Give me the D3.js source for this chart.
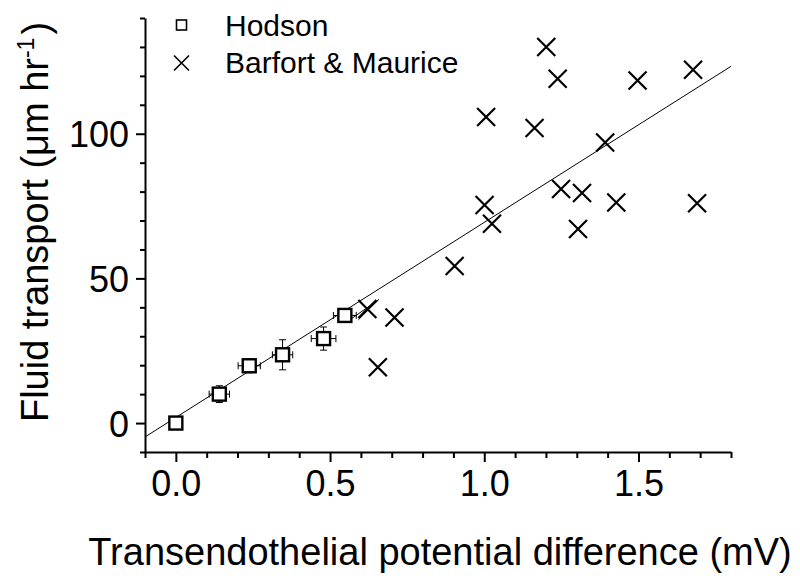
<!DOCTYPE html>
<html>
<head>
<meta charset="utf-8">
<script src="https://cdn.jsdelivr.net/npm/d3@7"></script>
<style>
    body { margin: 0; background: #fff; }
    svg { display: block; font-family: "Liberation Sans", Arial, sans-serif; }
</style>
</head>
<body>
<div id="chart"></div>
<script>
//Hodson (squares with error bars)
const hodsonX = [0, 0.141, 0.238, 0.346, 0.479, 0.548];
const hodsonY = [0, 10.0, 19.8, 23.6, 29.2, 37.2];
const hodsonXErr = [0, 0.033, 0.036, 0.033, 0.040, 0.037];
const hodsonYErr = [0, 2.9, 2.4, 5.2, 4.0, 1.5];

//Barfort & Maurice (crosses)
const barfortX = [1.201, 1.238, 1.497, 1.677, 1.006, 1.163, 1.392, 1.001, 1.025,
                  1.249, 1.317, 1.428, 1.690, 1.304, 0.904, 0.621, 0.709, 0.655];
const barfortY = [130.0, 119.0, 118.4, 122.1, 105.8, 102.0, 97.0, 75.4, 68.9,
                  80.9, 79.5, 76.2, 76.0, 67.1, 54.3, 39.4, 36.5, 19.3];

//fitted line end points
const fitX = [-0.1, 1.8];
const fitY = [-4.8, 123.3];

//small stray arrow near the last Hodson point
const arrowX = [0.571, 0.592, 0.657, 0.609];
const arrowY = [36.2, 35.7, 42.6, 37.7];

//axes
const xDomain = [-0.1, 1.8];
const yDomain = [-10, 140];
const xMajor = [0, 0.5, 1.0, 1.5];
const xMinor = [-0.1, 0.1, 0.2, 0.3, 0.4, 0.6, 0.7, 0.8, 0.9, 1.1, 1.2, 1.3, 1.4, 1.6, 1.7, 1.8];
const yMajor = [0, 50, 100];
const yMinor = [-10, 10, 20, 30, 40, 60, 70, 80, 90, 110, 120, 130, 140];

const legendItems = ["Hodson", "Barfort & Maurice"];
const xTitle = "Transendothelial potential difference (mV)";

const W = 800, H = 583;
const plot = { left: 145, right: 731, top: 18, bottom: 452 };

const svg = d3.select("#chart").append("svg")
    .attr("width", W)
    .attr("height", H);

const x = d3.scaleLinear().domain(xDomain).range([plot.left, plot.right]);
const y = d3.scaleLinear().domain(yDomain).range([plot.bottom, plot.top]);

const hodson = hodsonX.map((d, i) => ({ x: d, y: hodsonY[i], ex: hodsonXErr[i], ey: hodsonYErr[i] }));
const barfort = barfortX.map((d, i) => ({ x: d, y: barfortY[i] }));

//---- axes
const xAxisG = svg.append("g").attr("transform", `translate(0,${plot.bottom})`);
xAxisG.call(d3.axisBottom(x).tickValues(xMinor).tickSize(6).tickSizeOuter(0).tickFormat(""));
xAxisG.append("g").call(d3.axisBottom(x).tickValues(xMajor).tickSize(10).tickSizeOuter(0)
    .tickFormat(d3.format(".1f")))
    .call(g => g.select(".domain").remove());

const yAxisG = svg.append("g").attr("transform", `translate(${plot.left},0)`);
yAxisG.call(d3.axisLeft(y).tickValues(yMinor).tickSize(5).tickSizeOuter(0).tickFormat(""));
yAxisG.append("g").call(d3.axisLeft(y).tickValues(yMajor).tickSize(9).tickSizeOuter(0))
    .call(g => g.select(".domain").remove());

[xAxisG, yAxisG].forEach(g => {
    g.selectAll("path.domain, line").attr("stroke", "#000").attr("stroke-width", 2);
    g.selectAll("text")
        .attr("fill", "#000")
        .style("font-size", "36px")
        .attr("font-family", null);
});
xAxisG.selectAll("text").attr("dy", "0.9em").attr("y", 12);
yAxisG.selectAll("text").attr("x", -16).attr("dy", "0.36em");

//---- axis titles
svg.append("text")
    .attr("x", (85 + 795) / 2)
    .attr("y", 565)
    .attr("text-anchor", "middle")
    .style("font-size", "38px")
    .text(xTitle);

const yTitle = svg.append("text")
    .attr("transform", "translate(48,222) rotate(-90)")
    .attr("text-anchor", "middle")
    .style("font-size", "38px");
yTitle.append("tspan").text("Fluid transport (\u03bcm hr");
yTitle.append("tspan").attr("dy", "-0.6em").style("font-size", "23px").text("-1");
yTitle.append("tspan").attr("dy", "0.38em").attr("dx", "3").text(")");

//---- fitted line
const line = d3.line().x(d => x(d.x)).y(d => y(d.y));
svg.append("path")
    .datum(fitX.map((d, i) => ({ x: d, y: fitY[i] })))
    .attr("d", line)
    .attr("fill", "none")
    .attr("stroke", "#000")
    .attr("stroke-width", 1);

//stray arrow
const arrowPts = arrowX.map((d, i) => [x(d), y(arrowY[i])]);
svg.append("path")
    .attr("d", `M${arrowPts[0]}L${arrowPts[2]}M${arrowPts[1]}L${arrowPts[2]}L${arrowPts[3]}`)
    .attr("fill", "none")
    .attr("stroke", "#000")
    .attr("stroke-width", 1);

//---- error bars
const cap = 3.5;
const errG = svg.append("g").attr("stroke", "#000").attr("stroke-width", 1);
hodson.filter(d => d.ex > 0 || d.ey > 0).forEach(d => {
    const cx = x(d.x), cy = y(d.y);
    const x0 = x(d.x - d.ex), x1 = x(d.x + d.ex);
    const y0 = y(d.y - d.ey), y1 = y(d.y + d.ey);
    errG.append("path").attr("d",
        `M${x0},${cy}H${x1}` +
        `M${x0},${cy - cap}V${cy + cap}M${x1},${cy - cap}V${cy + cap}` +
        `M${cx},${y0}V${y1}` +
        `M${cx - cap},${y0}H${cx + cap}M${cx - cap},${y1}H${cx + cap}`);
});

//---- Hodson squares
const sq = 13;
svg.append("g").selectAll("rect")
    .data(hodson).enter()
    .append("rect")
    .attr("x", d => x(d.x) - sq / 2)
    .attr("y", d => y(d.y) - sq / 2)
    .attr("width", sq)
    .attr("height", sq)
    .attr("fill", "#fff")
    .attr("stroke", "#000")
    .attr("stroke-width", 2.4);

//---- Barfort crosses
const cr = 9;
const crossPath = (cx, cy, r) => `M${cx - r},${cy - r}L${cx + r},${cy + r}M${cx - r},${cy + r}L${cx + r},${cy - r}`;
svg.append("g").selectAll("path")
    .data(barfort).enter()
    .append("path")
    .attr("d", d => crossPath(x(d.x), y(d.y), cr))
    .attr("stroke", "#000")
    .attr("stroke-width", 2.2)
    .attr("fill", "none");

//---- legend
const legend = svg.append("g");
legend.append("rect")
    .attr("x", 181.5 - 5).attr("y", 25 - 5)
    .attr("width", 10).attr("height", 10)
    .attr("fill", "#fff").attr("stroke", "#000").attr("stroke-width", 1.6);
legend.append("path")
    .attr("d", crossPath(181.5, 63, 7.5))
    .attr("stroke", "#000").attr("stroke-width", 1.6);
legend.selectAll("text.leg")
    .data(legendItems).enter()
    .append("text")
    .classed("leg", true)
    .attr("x", 225)
    .attr("y", (d, i) => 36 + i * 37)
    .style("font-size", "30px")
    .text(d => d);
</script>
</body>
</html>
